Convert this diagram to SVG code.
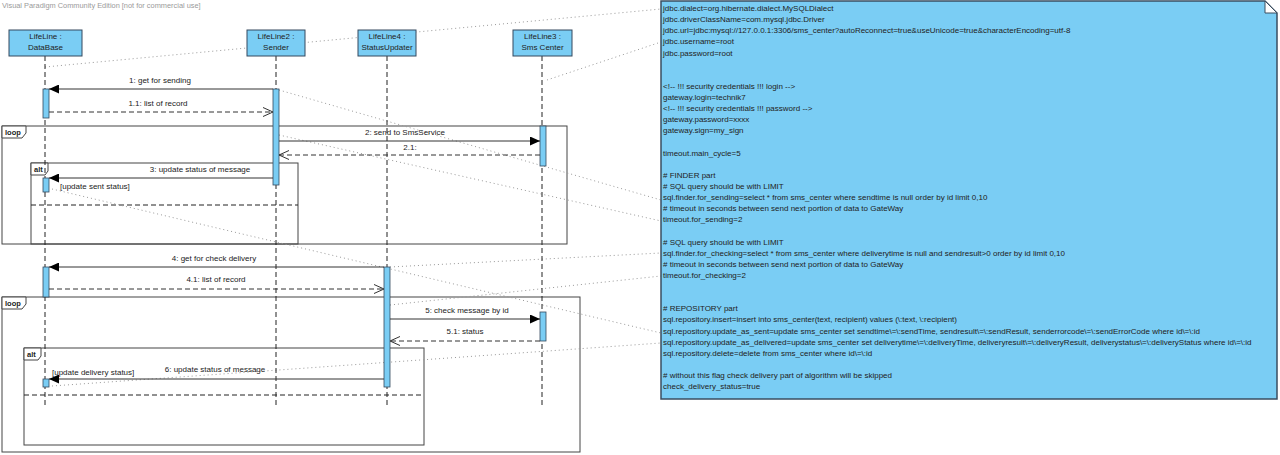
<svg xmlns="http://www.w3.org/2000/svg" width="1280" height="455" viewBox="0 0 1280 455">
<style>
text{font-family:"Liberation Sans",Arial,sans-serif;fill:#222}
.lbl{font-size:8px}
.note{font-size:8px}
.wm{font-size:7.4px;fill:#9a9a9a}
.box{fill:#7ACDF4;stroke:#34495E;stroke-width:1}
.act{fill:#7ACDF4;stroke:#34495E;stroke-width:0.8}
.life{stroke:#222;stroke-width:1;stroke-dasharray:5,3;fill:none}
.frame{fill:none;stroke:#444;stroke-width:1}
.tab{fill:#fff;stroke:#444;stroke-width:1}
.tabt{font-size:7.5px;font-weight:bold}
.div{stroke:#222;stroke-width:1;stroke-dasharray:5,3}
.msg{stroke:#333;stroke-width:1;fill:none}
.ret{stroke:#333;stroke-width:1;stroke-dasharray:5,3;fill:none}
.anc{stroke:#999;stroke-width:1;stroke-dasharray:1,3;fill:none}
</style>
<defs>
<marker id="fill" markerWidth="10" markerHeight="9" refX="10" refY="4.5" orient="auto" markerUnits="userSpaceOnUse">
<path d="M0,0 L10,4.5 L0,9 Z" fill="#000"/>
</marker>
<marker id="open" markerWidth="10" markerHeight="10" refX="10" refY="5" orient="auto" markerUnits="userSpaceOnUse">
<path d="M0,0.5 L10,5 L0,9.5" fill="none" stroke="#333" stroke-width="1"/>
</marker>
</defs>
<rect width="1280" height="455" fill="#fff"/>
<text class="wm" x="2" y="8">Visual Paradigm Community Edition [not for commercial use]</text>

<g id="frames">
<g id="loop1">
<rect class="frame" x="2" y="126" width="565" height="118"/>
<path class="tab" d="M2,126 H26 V133 L22,138 H2 Z"/>
<text class="tabt" x="5" y="135">loop</text>
</g>
<g id="alt1">
<rect class="frame" x="31" y="163" width="267" height="81"/>
<path class="tab" d="M31,163 H48 V171 L45,175 H31 Z"/>
<text class="tabt" x="34" y="172">alt</text>
<line class="div" x1="31" y1="205" x2="298" y2="205"/>
<text class="lbl" x="60" y="189">[update sent status]</text>
</g>
<g id="loop2">
<rect class="frame" x="2" y="297" width="578" height="155"/>
<path class="tab" d="M2,297 H26 V304 L22,309 H2 Z"/>
<text class="tabt" x="5" y="306">loop</text>
</g>
<g id="alt2">
<rect class="frame" x="24" y="348" width="400" height="97"/>
<path class="tab" d="M24,348 H41 V356 L38,360 H24 Z"/>
<text class="tabt" x="27" y="357">alt</text>
<line class="div" x1="24" y1="395" x2="424" y2="395"/>
<text class="lbl" x="52" y="375">[update delivery status]</text>
</g>
</g>

<g id="anchors">
<line class="anc" x1="45" y1="67" x2="661" y2="9"/>
<line class="anc" x1="547" y1="80" x2="661" y2="42"/>
<line class="anc" x1="279" y1="90" x2="661" y2="200"/>
<line class="anc" x1="279" y1="135" x2="661" y2="221"/>
<line class="anc" x1="52" y1="189" x2="661" y2="333"/>
<line class="anc" x1="390" y1="267" x2="661" y2="253"/>
<line class="anc" x1="390" y1="305" x2="661" y2="276"/>
<line class="anc" x1="52" y1="386" x2="661" y2="343"/>
</g>

<g id="lifelines">
<line class="life" x1="45" y1="56" x2="45" y2="408"/>
<line class="life" x1="276" y1="56" x2="276" y2="408"/>
<line class="life" x1="387" y1="56" x2="387" y2="408"/>
<line class="life" x1="542" y1="56" x2="542" y2="408"/>
</g>

<g id="DataBase">
<rect class="box" x="9" y="30" width="73" height="26"/>
<text class="lbl" x="45.5" y="39" text-anchor="middle">LifeLine :</text>
<text class="lbl" x="45.5" y="50" text-anchor="middle">DataBase</text>
<rect class="act" x="43" y="89" width="6" height="29"/>
<rect class="act" x="43" y="178" width="6" height="14"/>
<rect class="act" x="43" y="267" width="6" height="30"/>
<rect class="act" x="43" y="379" width="6" height="8"/>
</g>
<g id="Sender">
<rect class="box" x="247" y="30" width="58" height="26"/>
<text class="lbl" x="276" y="39" text-anchor="middle">LifeLine2 :</text>
<text class="lbl" x="276" y="50" text-anchor="middle">Sender</text>
<rect class="act" x="273" y="89" width="6" height="96"/>
</g>
<g id="StatusUpdater">
<rect class="box" x="358" y="30" width="58" height="26"/>
<text class="lbl" x="387" y="39" text-anchor="middle">LifeLine4 :</text>
<text class="lbl" x="387" y="50" text-anchor="middle">StatusUpdater</text>
<rect class="act" x="384" y="267" width="6" height="120"/>
</g>
<g id="SmsCenter">
<rect class="box" x="513" y="30" width="59" height="26"/>
<text class="lbl" x="542.5" y="39" text-anchor="middle">LifeLine3 :</text>
<text class="lbl" x="542.5" y="50" text-anchor="middle">Sms Center</text>
<rect class="act" x="540" y="126" width="6" height="40"/>
<rect class="act" x="540" y="312" width="6" height="29"/>
</g>

<g id="messages">
<line class="msg" x1="273" y1="89" x2="49" y2="89" marker-end="url(#fill)"/>
<text class="lbl" x="160" y="83" text-anchor="middle">1: get for sending</text>
<line class="ret" x1="49" y1="112" x2="273" y2="112" marker-end="url(#open)"/>
<text class="lbl" x="158" y="106" text-anchor="middle">1.1: list of record</text>
<line class="msg" x1="279" y1="141" x2="540" y2="141" marker-end="url(#fill)"/>
<text class="lbl" x="405" y="135" text-anchor="middle">2: send to SmsService</text>
<line class="ret" x1="540" y1="155" x2="279" y2="155" marker-end="url(#open)"/>
<text class="lbl" x="410" y="150" text-anchor="middle">2.1:</text>
<line class="msg" x1="273" y1="178" x2="49" y2="178" marker-end="url(#fill)"/>
<text class="lbl" x="200" y="172" text-anchor="middle">3: update status of message</text>
<line class="msg" x1="384" y1="267" x2="49" y2="267" marker-end="url(#fill)"/>
<text class="lbl" x="214" y="261" text-anchor="middle">4: get for check delivery</text>
<line class="ret" x1="49" y1="289" x2="384" y2="289" marker-end="url(#open)"/>
<text class="lbl" x="216" y="282" text-anchor="middle">4.1: list of record</text>
<line class="msg" x1="390" y1="319" x2="540" y2="319" marker-end="url(#fill)"/>
<text class="lbl" x="467" y="313" text-anchor="middle">5: check message by id</text>
<line class="ret" x1="540" y1="341" x2="390" y2="341" marker-end="url(#open)"/>
<text class="lbl" x="465" y="334" text-anchor="middle">5.1: status</text>
<line class="msg" x1="384" y1="379" x2="49" y2="379" marker-end="url(#fill)"/>
<text class="lbl" x="215" y="372" text-anchor="middle">6: update status of message</text>
</g>

<g id="note">
<path d="M661,1 H1265 L1277,13 V399 H661 Z" fill="#7ACDF4" stroke="#3A4E60" stroke-width="1.5"/>
<path d="M1265,1 V13 H1277 Z" fill="#fff" stroke="#3A4E60" stroke-width="1"/>
<text class="note">
<tspan x="663" y="11">jdbc.dialect=org.hibernate.dialect.MySQLDialect</tspan>
<tspan x="663" y="22.1">jdbc.driverClassName=com.mysql.jdbc.Driver</tspan>
<tspan x="663" y="33.2">jdbc.url=jdbc:mysql://127.0.0.1:3306/sms_center?autoReconnect=true&amp;useUnicode=true&amp;characterEncoding=utf-8</tspan>
<tspan x="663" y="44.4">jdbc.username=root</tspan>
<tspan x="663" y="55.5">jdbc.password=root</tspan>
<tspan x="663" y="88.8">&lt;!-- !!! security credentials !!! login --&gt;</tspan>
<tspan x="663" y="100">gateway.login=technik7</tspan>
<tspan x="663" y="111.1">&lt;!-- !!! security credentials !!! password --&gt;</tspan>
<tspan x="663" y="122.2">gateway.password=xxxx</tspan>
<tspan x="663" y="133.3">gateway.sign=my_sign</tspan>
<tspan x="663" y="155.6">timeout.main_cycle=5</tspan>
<tspan x="663" y="177.8"># FINDER part</tspan>
<tspan x="663" y="188.9"># SQL query should be with LIMIT</tspan>
<tspan x="663" y="200">sql.finder.for_sending=select * from sms_center where sendtime is null order by id limit 0,10</tspan>
<tspan x="663" y="211.2"># timeout in seconds between send next portion of data to GateWay</tspan>
<tspan x="663" y="222.3">timeout.for_sending=2</tspan>
<tspan x="663" y="244.5"># SQL query should be with LIMIT</tspan>
<tspan x="663" y="255.6">sql.finder.for_checking=select * from sms_center where deliverytime is null and sendresult&gt;0 order by id limit 0,10</tspan>
<tspan x="663" y="266.8"># timeout in seconds between send next portion of data to GateWay</tspan>
<tspan x="663" y="277.9">timeout.for_checking=2</tspan>
<tspan x="663" y="311.2"># REPOSITORY part</tspan>
<tspan x="663" y="322.4">sql.repository.insert=insert into sms_center(text, recipient) values (\:text, \:recipient)</tspan>
<tspan x="663" y="333.5">sql.repository.update_as_sent=update sms_center set sendtime\=\:sendTime, sendresult\=\:sendResult, senderrorcode\=\:sendErrorCode where id\=\:id</tspan>
<tspan x="663" y="344.6">sql.repository.update_as_delivered=update sms_center set deliverytime\=\:deliveryTime, deliveryresult\=\:deliveryResult, deliverystatus\=\:deliveryStatus where id\=\:id</tspan>
<tspan x="663" y="355.7">sql.repository.delete=delete from sms_center where id\=\:id</tspan>
<tspan x="663" y="378"># without this flag check delivery part of algorithm will be skipped</tspan>
<tspan x="663" y="389.1">check_delivery_status=true</tspan>
</text>
</g>
</svg>
